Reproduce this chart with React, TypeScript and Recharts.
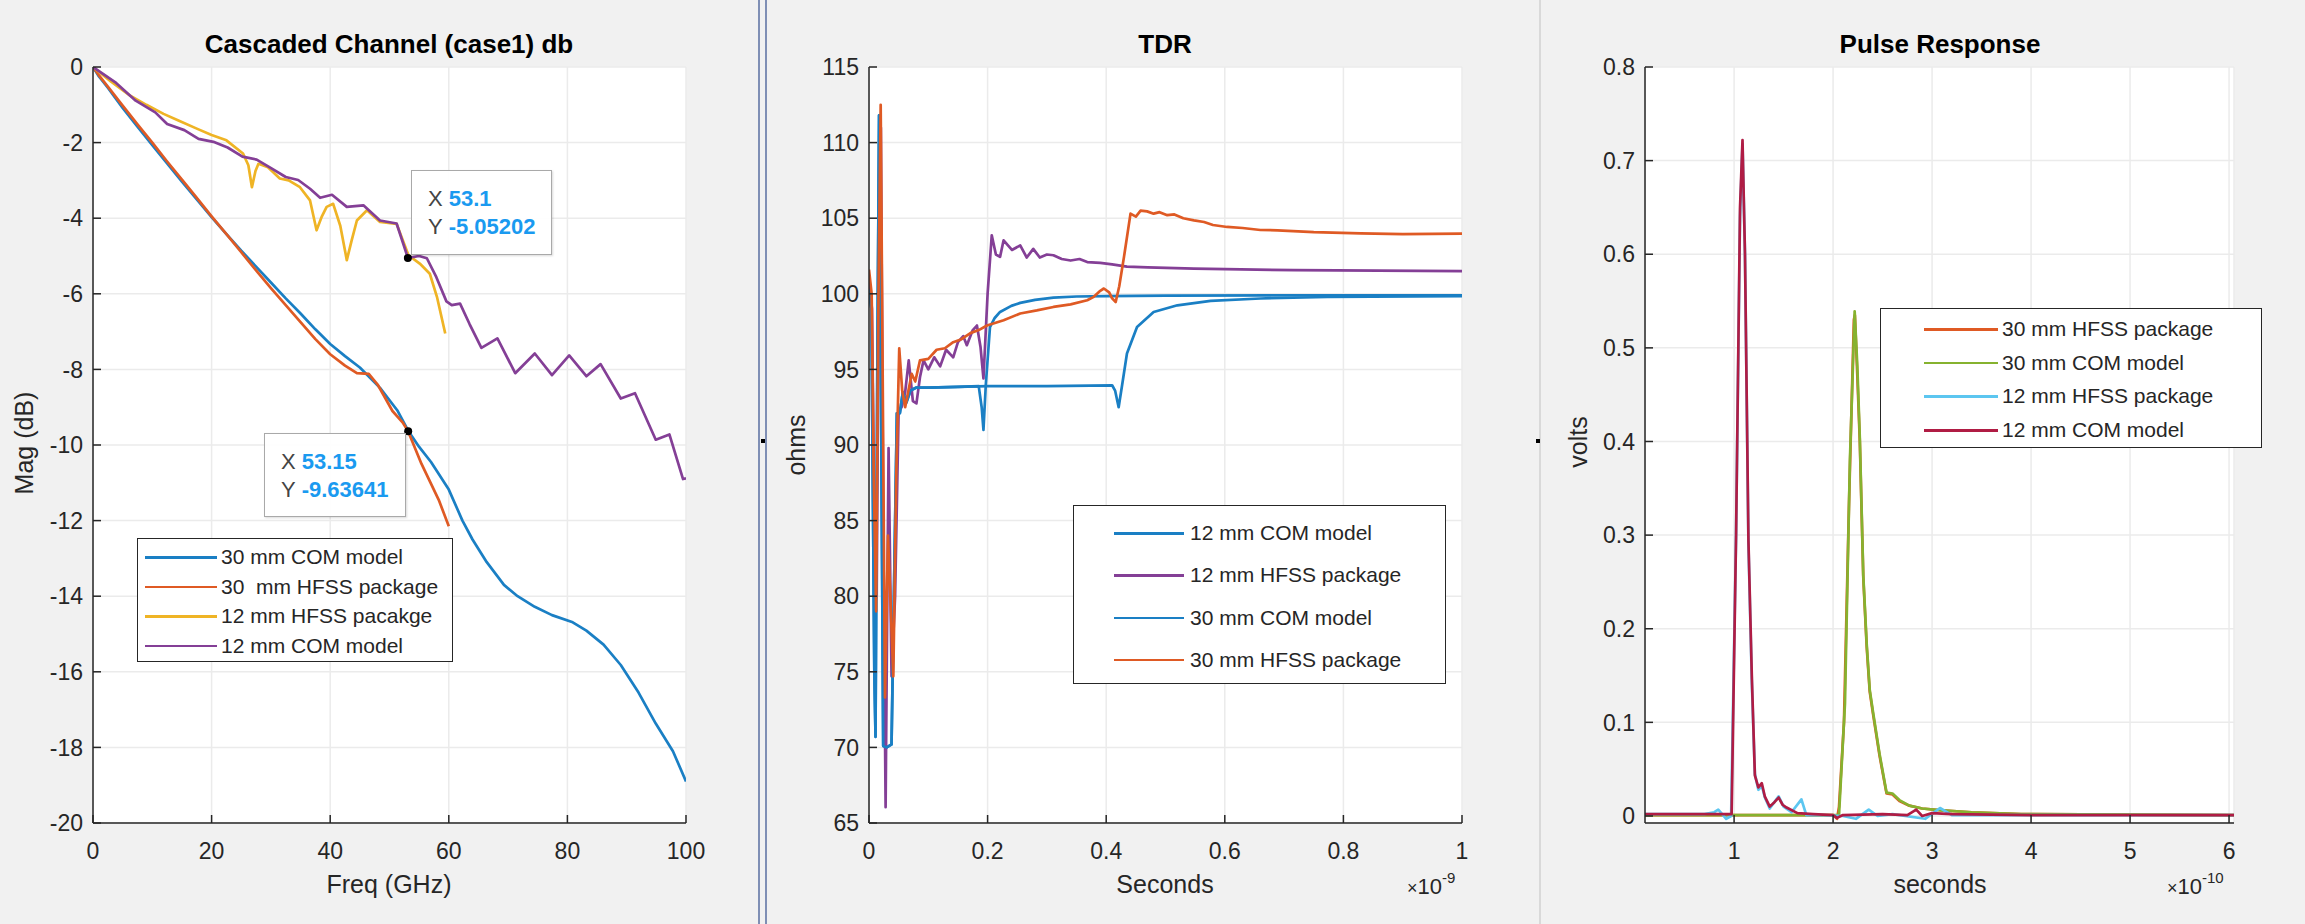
import React from "react";
import { LineChart, Line, XAxis, YAxis, CartesianGrid, ReferenceDot } from "recharts";

const FONT = '"Liberation Sans", Arial, Helvetica, sans-serif';
const INK = "#262626";

const BLUE = "#1a7fc4";
const ORANGE = "#df5a24";
const YELLOW = "#efb425";
const PURPLE = "#843f96";
const GREEN = "#86b22f";
const CYAN = "#5cc6f0";
const WINE = "#b01c44";

// ---- panel 1: cascaded channel, [GHz, dB]
const freqTicks = [0, 20, 40, 60, 80, 100];
const magTicks = [-20, -18, -16, -14, -12, -10, -8, -6, -4, -2, 0];

const lossCom30 = [
  [0, 0], [1, -0.25], [2.5, -0.55], [5, -1.08], [7.5, -1.58], [10, -2.07], [12.5, -2.55],
  [15, -3.03], [17.5, -3.5], [20, -3.97], [22.5, -4.42], [25, -4.86], [27.5, -5.28], [30, -5.7],
  [32.5, -6.12], [35, -6.52], [37.5, -6.94], [40, -7.33], [42.5, -7.65], [45, -7.95], [48.4, -8.49],
  [51.3, -9.08], [53.15, -9.62], [55, -10.05], [57, -10.45], [60, -11.18], [62.3, -12.0],
  [64, -12.5], [66.4, -13.1], [69.3, -13.7], [71.6, -14.0], [74.5, -14.28], [77.4, -14.5],
  [80.9, -14.69], [83.2, -14.91], [86.1, -15.28], [89, -15.82], [92, -16.55], [94.9, -17.37],
  [97.8, -18.1], [100, -18.9],
];
const lossHfss30 = [
  [0, 0], [1, -0.22], [2.5, -0.52], [5, -1.02], [7.5, -1.52], [10, -2.0], [12.5, -2.5],
  [15, -2.98], [17.5, -3.46], [20, -3.95], [22.5, -4.42], [25, -4.9], [27.5, -5.38], [30, -5.85],
  [32.5, -6.3], [35, -6.75], [37.5, -7.2], [40, -7.6], [42.5, -7.9], [44.5, -8.1], [46.5, -8.12],
  [48, -8.4], [50.5, -9.1], [52.2, -9.4], [53.15, -9.64], [55.4, -10.5], [58.3, -11.45],
  [60, -12.15],
];
const lossHfss12 = [
  [0, 0], [3, -0.38], [6.2, -0.75], [9, -1.0], [11.9, -1.24], [14.5, -1.42], [17.5, -1.63],
  [20, -1.8], [22.5, -1.94], [25.3, -2.29], [26.2, -2.6], [26.8, -3.18], [27.4, -2.75],
  [27.9, -2.56], [29.5, -2.65], [31.5, -2.95], [33, -3.0], [34.9, -3.18], [36.6, -3.53],
  [37.7, -4.32], [38.6, -3.95], [39.4, -3.7], [40.5, -3.62], [41.7, -4.2], [42.8, -5.11],
  [43.6, -4.6], [44.5, -4.06], [46.2, -3.79], [48.4, -4.1], [51.2, -4.15], [53.2, -4.98],
  [55.1, -5.2], [56.8, -5.47], [58, -6.08], [59.4, -7.05],
];
const lossCom12 = [
  [0, 0], [3.9, -0.42], [7.2, -0.89], [10.5, -1.2], [12.5, -1.51], [15.4, -1.67], [17.8, -1.9],
  [20.3, -1.98], [22.7, -2.13], [25.2, -2.37], [27.6, -2.45], [30.1, -2.68], [32.5, -2.91],
  [34.6, -2.99], [36.6, -3.22], [38.3, -3.46], [40.3, -3.38], [42.8, -3.7], [45.6, -3.66],
  [48.4, -4.06], [51.2, -4.14], [53.1, -5.05], [55, -5.0], [56.3, -5.06], [57.9, -5.56],
  [59.6, -6.2], [60.5, -6.3], [61.9, -6.26], [63.5, -6.8], [65.5, -7.43], [68.2, -7.18],
  [71.2, -8.1], [74.5, -7.58], [77.4, -8.15], [80.3, -7.63], [83.2, -8.18], [85.6, -7.86],
  [89, -8.77], [91.4, -8.63], [94.9, -9.86], [97.2, -9.72], [99.5, -10.9], [100, -10.88],
];
const tipUpper = { x: 53.1, y: -5.05202 };
const tipLower = { x: 53.15, y: -9.63641 };

// ---- panel 2: TDR, [ns, ohms]
const tdrTimeTicks = [0, 0.2, 0.4, 0.6, 0.8, 1];
const ohmTicks = [65, 70, 75, 80, 85, 90, 95, 100, 105, 110, 115];

const tdrCom12 = [
  [0, 100.3], [0.004, 99], [0.009, 75], [0.011, 70.7], [0.014, 95], [0.017, 111.8], [0.02, 95],
  [0.024, 70.1], [0.03, 70.0], [0.038, 70.2], [0.042, 80], [0.047, 92.1], [0.052, 92.1],
  [0.057, 93.5], [0.063, 92.8], [0.07, 93.6], [0.08, 93.8], [0.1, 93.8], [0.15, 93.85],
  [0.185, 93.9], [0.19, 92.5], [0.193, 91.0], [0.197, 94], [0.204, 97.8], [0.212, 98.4],
  [0.221, 98.8], [0.24, 99.2], [0.255, 99.4], [0.28, 99.6], [0.311, 99.75], [0.35, 99.82],
  [0.4, 99.85], [0.5, 99.88], [0.7, 99.9], [1, 99.9],
];
const tdrHfss12 = [
  [0, 101], [0.005, 99], [0.01, 82], [0.013, 80], [0.017, 105], [0.02, 111], [0.024, 85],
  [0.028, 66.05], [0.033, 89.8], [0.038, 74.7], [0.044, 80], [0.05, 92.3], [0.055, 92.5],
  [0.061, 93.5], [0.067, 95.6], [0.074, 92.9], [0.08, 92.75], [0.086, 94.5], [0.092, 95.6],
  [0.1, 95.0], [0.11, 95.8], [0.12, 95.2], [0.13, 96.3], [0.142, 95.8], [0.15, 96.8],
  [0.159, 97.2], [0.165, 96.6], [0.175, 97.6], [0.182, 97.9], [0.188, 96.5], [0.193, 94.4],
  [0.2, 100], [0.207, 103.87], [0.214, 102.6], [0.221, 102.44], [0.227, 103.54], [0.241, 102.9],
  [0.255, 103.2], [0.266, 102.4], [0.277, 102.97], [0.288, 102.4], [0.3, 102.6], [0.311, 102.55],
  [0.325, 102.3], [0.34, 102.2], [0.355, 102.3], [0.368, 102.1], [0.39, 102.05], [0.41, 101.95],
  [0.435, 101.8], [0.47, 101.75], [0.548, 101.67], [0.717, 101.56], [1, 101.5],
];
const tdrCom30 = [
  [0, 100.3], [0.004, 99], [0.009, 75], [0.011, 70.7], [0.014, 95], [0.017, 111.8], [0.02, 95],
  [0.024, 70.1], [0.03, 70.0], [0.038, 70.2], [0.042, 80], [0.047, 92.1], [0.052, 92.1],
  [0.057, 93.5], [0.063, 92.8], [0.07, 93.6], [0.08, 93.8], [0.1, 93.8], [0.2, 93.9],
  [0.3, 93.9], [0.41, 93.95], [0.415, 93.6], [0.421, 92.5], [0.427, 94], [0.435, 96.05],
  [0.452, 97.8], [0.48, 98.8], [0.52, 99.24], [0.576, 99.53], [0.66, 99.69], [0.773, 99.79],
  [1, 99.84],
];
const tdrHfss30 = [
  [0, 101.6], [0.0045, 100], [0.008, 88], [0.012, 79], [0.016, 100], [0.0197, 112.5],
  [0.023, 95], [0.027, 73.3], [0.032, 84], [0.036, 80], [0.041, 74.7], [0.046, 88],
  [0.051, 96.4], [0.056, 93.6], [0.061, 92.5], [0.066, 93.5], [0.072, 94.7], [0.078, 94.2],
  [0.086, 95.6], [0.1, 95.7], [0.114, 96.3], [0.128, 96.4], [0.142, 96.8], [0.156, 97],
  [0.171, 97.4], [0.185, 97.6], [0.199, 97.9], [0.227, 98.25], [0.255, 98.7], [0.283, 98.9],
  [0.311, 99.13], [0.34, 99.3], [0.368, 99.57], [0.379, 99.8], [0.39, 100.2], [0.396, 100.35],
  [0.405, 100.1], [0.41, 99.7], [0.416, 99.46], [0.422, 100.5], [0.43, 102.44], [0.441, 105.3],
  [0.45, 105.1], [0.458, 105.5], [0.469, 105.45], [0.48, 105.3], [0.49, 105.4], [0.503, 105.2],
  [0.515, 105.25], [0.53, 105.0], [0.548, 104.86], [0.565, 104.75], [0.58, 104.55],
  [0.604, 104.42], [0.63, 104.35], [0.66, 104.22], [0.689, 104.2], [0.75, 104.08],
  [0.829, 104.0], [0.9, 103.95], [1, 103.98],
];

// ---- panel 3: pulse response, [1e-10 s, volts]
const pulseTimeTicks = [1, 2, 3, 4, 5, 6];
const voltTicks = [0, 0.1, 0.2, 0.3, 0.4, 0.5, 0.6, 0.7, 0.8];

const pulseHfss30 = [
  [0.1, 0.001], [2, 0.001], [2.04, -0.003], [2.06, 0.01], [2.11, 0.1], [2.16, 0.33],
  [2.21, 0.53], [2.22, 0.535], [2.245, 0.47], [2.27, 0.4], [2.305, 0.255], [2.34, 0.18],
  [2.37, 0.133], [2.405, 0.108], [2.47, 0.064], [2.54, 0.024], [2.6, 0.023], [2.67, 0.016],
  [2.77, 0.011], [2.9, 0.008], [3.1, 0.006], [3.4, 0.004], [3.9, 0.002], [6.05, 0.001],
];
const pulseCom30 = [
  [0.1, 0.001], [1, 0.001], [2, 0.001], [2.06, 0.001], [2.12, 0.12], [2.17, 0.38],
  [2.218, 0.539], [2.245, 0.48], [2.27, 0.404], [2.305, 0.257], [2.34, 0.183], [2.37, 0.135],
  [2.405, 0.11], [2.47, 0.066], [2.54, 0.025], [2.6, 0.024], [2.67, 0.017], [2.77, 0.011],
  [2.9, 0.008], [3.1, 0.006], [3.4, 0.004], [3.9, 0.002], [6.05, 0.001],
];
const pulseHfss12 = [
  [0.1, 0.002], [0.7, 0.002], [0.8, 0.004], [0.84, 0.0067], [0.88, 0.002], [0.92, -0.003],
  [0.97, 0.0], [1.02, 0.3], [1.06, 0.64], [1.085, 0.718], [1.11, 0.6], [1.145, 0.29],
  [1.18, 0.14], [1.21, 0.045], [1.245, 0.028], [1.28, 0.032], [1.31, 0.02], [1.36, 0.008],
  [1.45, 0.021], [1.5, 0.01], [1.58, 0.004], [1.68, 0.0178], [1.73, 0.001], [1.9, 0.001],
  [2.1, 0.0], [2.23, -0.003], [2.36, 0.0068], [2.45, 0.0], [2.6, 0.002], [2.93, -0.003],
  [3.08, 0.0085], [3.2, 0.001], [3.5, 0.001], [6.05, 0.001],
];
const pulseCom12 = [
  [0.1, 0.002], [0.5, 0.002], [0.9, 0.002], [0.975, 0.002], [1.02, 0.3], [1.06, 0.65],
  [1.085, 0.722], [1.11, 0.6], [1.145, 0.294], [1.18, 0.146], [1.21, 0.0435], [1.245, 0.0306],
  [1.28, 0.035], [1.31, 0.021], [1.36, 0.01], [1.41, 0.015], [1.45, 0.0197], [1.49, 0.012],
  [1.53, 0.009], [1.64, 0.003], [1.8, 0.002], [2.0, 0.001], [2.04, -0.002], [2.1, 0.001],
  [2.5, 0.002], [2.75, 0.001], [2.84, 0.0068], [2.9, 0], [3.0, 0.003], [3.2, 0.002],
  [4, 0.001], [6.05, 0.001],
];

type Series = { name: string; color: string; data: number[][] };

const lossSeries: Series[] = [
  { name: "30 mm COM model", color: BLUE, data: lossCom30 },
  { name: "30  mm HFSS package", color: ORANGE, data: lossHfss30 },
  { name: "12 mm HFSS pacakge", color: YELLOW, data: lossHfss12 },
  { name: "12 mm COM model", color: PURPLE, data: lossCom12 },
];
const tdrSeries: Series[] = [
  { name: "12 mm COM model", color: BLUE, data: tdrCom12 },
  { name: "12 mm HFSS package", color: PURPLE, data: tdrHfss12 },
  { name: "30 mm COM model", color: BLUE, data: tdrCom30 },
  { name: "30 mm HFSS package", color: ORANGE, data: tdrHfss30 },
];
const pulseSeries: Series[] = [
  { name: "30 mm HFSS package", color: ORANGE, data: pulseHfss30 },
  { name: "30 mm COM model", color: GREEN, data: pulseCom30 },
  { name: "12 mm HFSS package", color: CYAN, data: pulseHfss12 },
  { name: "12 mm COM model", color: WINE, data: pulseCom12 },
];

const toPts = (arr: number[][]) => arr.map(([x, y]) => ({ x, y }));

const axisProps = {
  axisLine: { stroke: INK, strokeWidth: 1.5 },
  tickLine: { stroke: INK, strokeWidth: 1.5 },
  tick: { fill: INK, fontSize: 23, fontFamily: FONT },
  tickSize: -8,
  interval: 0 as const,
  allowDataOverflow: true,
};

function Panel(props: {
  left: number;
  width: number;
  margin: { top: number; right: number; bottom: number; left: number };
  xDomain: [number, number];
  yDomain: [number, number];
  xTicks: number[];
  yTicks: number[];
  series: Series[];
  children?: React.ReactNode;
}) {
  const { left, width, margin, xDomain, yDomain, xTicks, yTicks, series, children } = props;
  return (
    <div style={{ position: "absolute", left, top: 0 }}>
      <LineChart width={width} height={924} margin={margin}>
        <CartesianGrid fill="#ffffff" stroke="#ebebeb" strokeWidth={1.5} />
        <XAxis type="number" dataKey="x" domain={xDomain} ticks={xTicks} height={60} tickMargin={28} {...axisProps} />
        <YAxis type="number" domain={yDomain} ticks={yTicks} width={60} tickMargin={18} {...axisProps} />
        {series.map((s, i) => (
          <Line
            key={i}
            data={toPts(s.data)}
            dataKey="y"
            type="linear"
            stroke={s.color}
            strokeWidth={2.7}
            strokeLinejoin="round"
            dot={false}
            activeDot={false}
            isAnimationActive={false}
          />
        ))}
        {children}
      </LineChart>
    </div>
  );
}

function Text(props: { x: number; y: number; size: number; bold?: boolean; rotate?: boolean; children: React.ReactNode }) {
  const { x, y, size, bold, rotate, children } = props;
  return (
    <div
      style={{
        position: "absolute",
        left: x,
        top: y,
        transform: `translate(-50%, -50%)${rotate ? " rotate(-90deg)" : ""}`,
        fontSize: size,
        fontWeight: bold ? "bold" : "normal",
        color: bold ? "#000" : INK,
        whiteSpace: "nowrap",
        fontFamily: FONT,
        lineHeight: 1,
      }}
    >
      {children}
    </div>
  );
}

function LegendBox(props: {
  left: number; top: number; width: number; height: number;
  first: number; gap: number; lineX: number; lineW: number; textX: number; series: Series[];
}) {
  const { left, top, width, height, first, gap, lineX, lineW, textX, series } = props;
  return (
    <div
      style={{
        position: "absolute", left, top, width, height, background: "#fff",
        border: `1.5px solid ${INK}`, boxSizing: "border-box", fontFamily: FONT,
      }}
    >
      {series.map((s, i) => (
        <div key={i} style={{ position: "absolute", left: 0, top: first + i * gap - 13, height: 26, width: "100%" }}>
          <div style={{ position: "absolute", left: lineX, top: 12, width: lineW, height: 2.5, background: s.color }} />
          <div style={{ position: "absolute", left: textX, top: 0, lineHeight: "26px", fontSize: 21, color: INK, whiteSpace: "pre" }}>
            {s.name}
          </div>
        </div>
      ))}
    </div>
  );
}

function DataTip(props: { left: number; top: number; width: number; height: number; x: number; y: number }) {
  const { left, top, width, height, x, y } = props;
  const row = (label: string, value: number, cy: number) => (
    <div style={{ position: "absolute", left: 16, top: cy - 13, lineHeight: "26px", fontSize: 22, whiteSpace: "nowrap" }}>
      <span style={{ color: "#444" }}>{label}</span>
      <span style={{ color: "#1a9af0", fontWeight: "bold", marginLeft: 6 }}>{value}</span>
    </div>
  );
  return (
    <div
      style={{
        position: "absolute", left, top, width, height, background: "rgba(255,255,255,0.93)",
        border: "1.5px solid #a9a9a9", boxSizing: "border-box", fontFamily: FONT,
        boxShadow: "1px 1px 2px rgba(0,0,0,0.15)",
      }}
    >
      {row("X", x, 28)}
      {row("Y", y, 56)}
    </div>
  );
}

function Exponent(props: { left: number; top: number; power: string }) {
  return (
    <div style={{ position: "absolute", left: props.left, top: props.top, fontFamily: FONT, fontSize: 22, color: INK, whiteSpace: "nowrap" }}>
      <span style={{ fontSize: 18 }}>×</span>10
      <span style={{ fontSize: 15, position: "relative", top: -11 }}>{props.power}</span>
    </div>
  );
}

export default function App() {
  return (
    <div style={{ position: "relative", width: 2305, height: 924, background: "#f1f1f1", overflow: "hidden" }}>
      <style>{"body{margin:0}"}</style>

      <Panel
        left={0} width={760}
        margin={{ top: 67, right: 74, bottom: 41, left: 33 }}
        xDomain={[0, 100]} yDomain={[-20, 0]} xTicks={freqTicks} yTicks={magTicks}
        series={lossSeries}
      >
        <ReferenceDot x={tipUpper.x} y={tipUpper.y} r={4} fill="#000" stroke="none" />
        <ReferenceDot x={tipLower.x} y={tipLower.y} r={4} fill="#000" stroke="none" />
      </Panel>
      <Panel
        left={767} width={773}
        margin={{ top: 67, right: 78, bottom: 41, left: 42 }}
        xDomain={[0, 1]} yDomain={[65, 115]} xTicks={tdrTimeTicks} yTicks={ohmTicks}
        series={tdrSeries}
      />
      <Panel
        left={1541} width={764}
        margin={{ top: 67, right: 71, bottom: 41, left: 44 }}
        xDomain={[0.1, 6.05]} yDomain={[-0.0075, 0.8]} xTicks={pulseTimeTicks} yTicks={voltTicks}
        series={pulseSeries}
      />

      {/* separators */}
      <div style={{ position: "absolute", left: 758, top: 0, width: 2, height: 924, background: "#7f8fb5" }} />
      <div style={{ position: "absolute", left: 765, top: 0, width: 2, height: 924, background: "#7f8fb5" }} />
      <div style={{ position: "absolute", left: 1539, top: 0, width: 2, height: 924, background: "#d9d9d9" }} />
      <div style={{ position: "absolute", left: 761, top: 439, width: 4, height: 4, background: "#000" }} />
      <div style={{ position: "absolute", left: 1536, top: 439, width: 4, height: 4, background: "#000" }} />

      {/* titles and axis labels */}
      <Text x={389} y={44} size={26} bold>Cascaded Channel (case1) db</Text>
      <Text x={1165} y={44} size={26} bold>TDR</Text>
      <Text x={1940} y={44} size={26} bold>Pulse Response</Text>
      <Text x={389} y={884} size={25}>Freq (GHz)</Text>
      <Text x={1165} y={884} size={25}>Seconds</Text>
      <Text x={1940} y={884} size={25}>seconds</Text>
      <Text x={24} y={443} size={25} rotate>Mag (dB)</Text>
      <Text x={796} y={445} size={25} rotate>ohms</Text>
      <Text x={1578} y={442} size={25} rotate>volts</Text>
      <Exponent left={1407} top={874} power="-9" />
      <Exponent left={2167} top={874} power="-10" />

      {/* data tips */}
      <DataTip left={411} top={170} width={141} height={85} x={tipUpper.x} y={tipUpper.y} />
      <DataTip left={264} top={433} width={142} height={84} x={tipLower.x} y={tipLower.y} />

      {/* legends */}
      <LegendBox left={137} top={538} width={316} height={124} first={18} gap={29.5} lineX={7} lineW={72} textX={83} series={lossSeries} />
      <LegendBox left={1073} top={505} width={373} height={179} first={27} gap={42.3} lineX={40} lineW={70} textX={116} series={tdrSeries} />
      <LegendBox left={1880} top={308} width={382} height={140} first={20} gap={33.7} lineX={43} lineW={74} textX={121} series={pulseSeries} />
    </div>
  );
}
